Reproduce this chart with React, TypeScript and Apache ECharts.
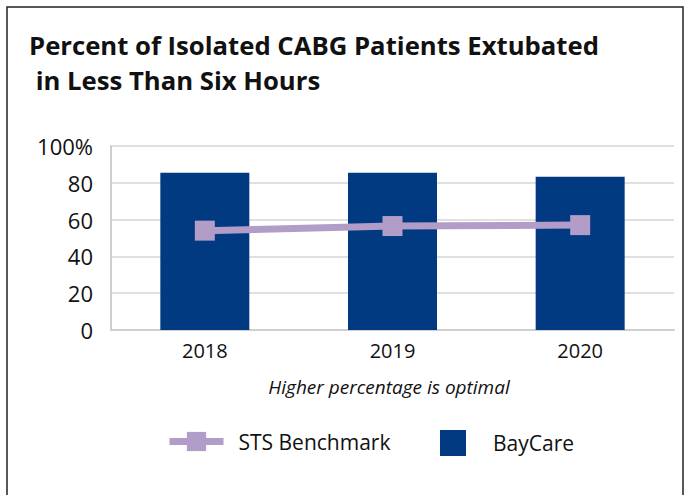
import React, { useEffect, useRef } from "react";
import * as echarts from "echarts";

const categories = ["2018", "2019", "2020"];
const bayCare = [85.5, 85.5, 83.3];
const stsBenchmark = [54, 56.5, 57];
const yTicks = [0, 20, 40, 60, 80, 100];

const BAR = "#013a80";
const LINE = "#b29cc8";

export default function App() {
  const ref = useRef<HTMLDivElement>(null);
  useEffect(() => {
    const chart = echarts.init(ref.current!, null, { renderer: "svg" });
    chart.setOption({
      animation: false,
      backgroundColor: "#ffffff",
      title: {
        text: "Percent of Isolated CABG Patients Extubated\n in Less Than Six Hours",
        left: 29,
        top: 28,
        padding: 0,
        textStyle: {
          fontFamily: "Open Sans",
          fontWeight: "bold",
          fontSize: 25.7,
          lineHeight: 35,
          color: "#111",
        },
      },
      grid: { left: 111, right: 12, top: 146, bottom: 165 },
      xAxis: {
        type: "category",
        data: categories,
        axisLine: { lineStyle: { color: "#cfcfcf", width: 2 } },
        axisTick: { show: false },
        axisLabel: { fontFamily: "Open Sans", fontSize: 20, color: "#111", margin: 10 },
      },
      yAxis: {
        type: "value",
        min: yTicks[0],
        max: yTicks[yTicks.length - 1],
        interval: 20,
        axisLine: { show: true, lineStyle: { color: "#cfcfcf", width: 2 } },
        axisTick: { show: false },
        splitLine: { lineStyle: { color: "#d6d6d6", width: 1.5 } },
        axisLabel: {
          fontFamily: "Open Sans",
          fontSize: 22,
          color: "#111",
          margin: 18,
          formatter: (v: number) => (v === 100 ? "100%" : String(v)),
        },
      },
      legend: [
        {
          data: [
            {
              name: "STS Benchmark",
              lineStyle: { width: 7, color: LINE },
            },
          ],
          left: 166,
          top: 431,
          padding: 0,
          itemWidth: 54,
          itemHeight: 24,
          textStyle: { fontFamily: "Open Sans", fontSize: 21, color: "#111", padding: [0, 0, 0, 10] },
        },
        {
          data: [{ name: "BayCare", icon: "rect" }],
          left: 440,
          top: 430,
          padding: 0,
          itemWidth: 26,
          itemHeight: 26,
          textStyle: { fontFamily: "Open Sans", fontSize: 21, color: "#111", padding: [0, 0, 0, 22] },
        },
      ],
      graphic: [
        {
          type: "polyline",
          shape: { points: [[7, 500], [7, 7], [683, 7], [683, 500]] },
          style: { stroke: "#222", lineWidth: 1.5, fill: "none" },
        },
        {
          type: "text",
          x: 389,
          y: 387,
          style: {
            text: "Higher percentage is optimal",
            fontFamily: "Open Sans",
            fontStyle: "italic",
            fontSize: 19,
            fill: "#111",
            textAlign: "center",
            textVerticalAlign: "middle",
          },
        },
      ],
      series: [
        {
          name: "BayCare",
          type: "bar",
          data: bayCare,
          barWidth: 89,
          itemStyle: { color: BAR },
          z: 1,
        },
        {
          name: "STS Benchmark",
          type: "line",
          data: stsBenchmark,
          symbol: "rect",
          symbolSize: 20,
          itemStyle: { color: LINE },
          lineStyle: { color: LINE, width: 7 },
          z: 3,
        },
      ],
    });
    return () => chart.dispose();
  }, []);
  return (
    <div
      ref={ref}
      style={{ position: "fixed", left: 0, top: 0, width: 686, height: 495 }}
    />
  );
}
